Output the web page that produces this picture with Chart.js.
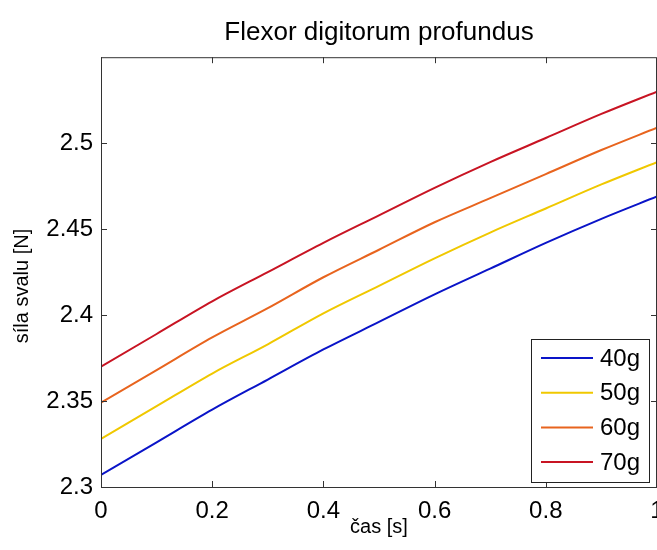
<!DOCTYPE html>
<html>
<head>
<meta charset="utf-8">
<script src="https://cdn.jsdelivr.net/npm/chart.js@4"></script>
<style>
  html, body { margin: 0; padding: 0; background: #fff; overflow: hidden; }
  #wrap { width: 657px; height: 550px; }
</style>
</head>
<body>
<div id="wrap"><canvas id="myChart" width="657" height="550"></canvas></div>
<script>
// cas [s]
const times = [0, 0.1, 0.2, 0.3, 0.4, 0.5, 0.6, 0.7, 0.8, 0.9, 1.0];
// sila svalu [N] for each weight
const f40 = [2.307, 2.326, 2.345, 2.3625, 2.380, 2.396, 2.412, 2.427, 2.442, 2.456, 2.469];
const f50 = [2.328, 2.347, 2.366, 2.383, 2.401, 2.417, 2.433, 2.448, 2.462, 2.476, 2.489];
const f60 = [2.349, 2.368, 2.387, 2.404, 2.422, 2.438, 2.454, 2.468, 2.482, 2.496, 2.509];
const f70 = [2.370, 2.389, 2.408, 2.425, 2.442, 2.458, 2.474, 2.489, 2.503, 2.517, 2.530];
const labels = ['40g', '50g', '60g', '70g'];
const colors = ['#0a14c8', '#f0c800', '#e8641e', '#c81423'];
const xTicks = [0, 0.2, 0.4, 0.6, 0.8, 1];
const yTicks = [2.3, 2.35, 2.4, 2.45, 2.5];

const FONT = 'Liberation Sans, Arial, sans-serif';
const series = [f40, f50, f60, f70];

function pts(arr){
    return arr.map((v, i) => ({x: times[i], y: v}));
}

// box, inward ticks (all four sides) and the legend inside the plot
const matlabBox = {
    id: 'matlabBox',
    afterDraw(chart){
        const c = chart.ctx;
        const a = chart.chartArea;
        const xs = chart.scales.x, ys = chart.scales.y;
        c.save();
        c.strokeStyle = '#333';
        c.lineWidth = 1;
        c.strokeRect(a.left + 0.5, a.top + 0.5, a.right - a.left - 1, a.bottom - a.top);
        c.beginPath();
        xTicks.forEach(t => {
            let px = Math.round(xs.getPixelForValue(t)) + 0.5;
            c.moveTo(px, a.bottom); c.lineTo(px, a.bottom - 6);
            c.moveTo(px, a.top); c.lineTo(px, a.top + 6);
        });
        yTicks.forEach(t => {
            let py = Math.round(ys.getPixelForValue(t)) + 0.5;
            c.moveTo(a.left, py); c.lineTo(a.left + 6, py);
            c.moveTo(a.right, py); c.lineTo(a.right - 6, py);
        });
        c.stroke();

        // legend
        let bw = 118, bh = 143;
        let bx = a.right - 8 - bw, by = a.bottom - 5 - bh;
        c.fillStyle = '#fff';
        c.fillRect(bx, by, bw, bh);
        c.strokeStyle = '#222';
        c.strokeRect(bx + 0.5, by + 0.5, bw, bh);
        c.font = '24px ' + FONT;
        c.textBaseline = 'middle';
        c.textAlign = 'left';
        chart.data.datasets.forEach((ds, i) => {
            let ry = by + 19 + i * 34.7;
            c.strokeStyle = ds.borderColor;
            c.lineWidth = 2;
            c.beginPath();
            c.moveTo(bx + 10, ry); c.lineTo(bx + 62, ry);
            c.stroke();
            c.fillStyle = '#000';
            c.fillText(ds.label, bx + 69, ry + 1);
        });
        c.restore();
    }
};

let ctx = document.getElementById('myChart').getContext('2d');
let myChart = new Chart(ctx, {
    type: 'line',
    data: {
        datasets: series.map((s, i) => ({
            label: labels[i],
            data: pts(s),
            borderColor: colors[i],
            borderWidth: 2,
            pointRadius: 0,
            cubicInterpolationMode: 'monotone',
            fill: false
        }))
    },
    options: {
        responsive: false,
        animation: false,
        layout: { padding: 0 },
        plugins: {
            legend: { display: false },
            tooltip: { enabled: false },
            title: {
                display: true,
                fullSize: false,
                text: 'Flexor digitorum profundus',
                color: '#000',
                font: { family: FONT, size: 26, weight: 'normal' },
                padding: { top: 17, bottom: 9 }
            }
        },
        scales: {
            x: {
                type: 'linear',
                min: 0,
                max: 1,
                afterBuildTicks: s => { s.ticks = xTicks.map(v => ({value: v})); },
                afterFit: s => { s.height = 63; s.paddingRight = 0; s.paddingLeft = 0; },
                grid: { display: false, drawTicks: false },
                border: { display: false },
                ticks: {
                    color: '#000',
                    padding: 10,
                    maxRotation: 0,
                    font: { family: FONT, size: 24 },
                    callback: v => String(v)
                },
                title: {
                    display: true,
                    text: 'čas [s]',
                    color: '#000',
                    font: { family: FONT, size: 20 },
                    padding: { top: 0, bottom: 11 }
                }
            },
            y: {
                type: 'linear',
                min: 2.3,
                max: 2.55,
                afterBuildTicks: s => { s.ticks = yTicks.map(v => ({value: v})); },
                afterFit: s => { s.width = 101; s.paddingTop = 0; s.paddingBottom = 0; },
                grid: { display: false, drawTicks: false },
                border: { display: false },
                ticks: {
                    color: '#000',
                    padding: 8,
                    font: { family: FONT, size: 24 },
                    callback: v => String(Number(v.toFixed(2)))
                },
                title: {
                    display: true,
                    // trailing spaces nudge the label a bit lower, as in the original
                    text: 'síla svalu [N]     ',
                    color: '#000',
                    font: { family: FONT, size: 20 },
                    padding: { top: 10, bottom: 0 }
                }
            }
        }
    },
    plugins: [matlabBox]
});
</script>
</body>
</html>
